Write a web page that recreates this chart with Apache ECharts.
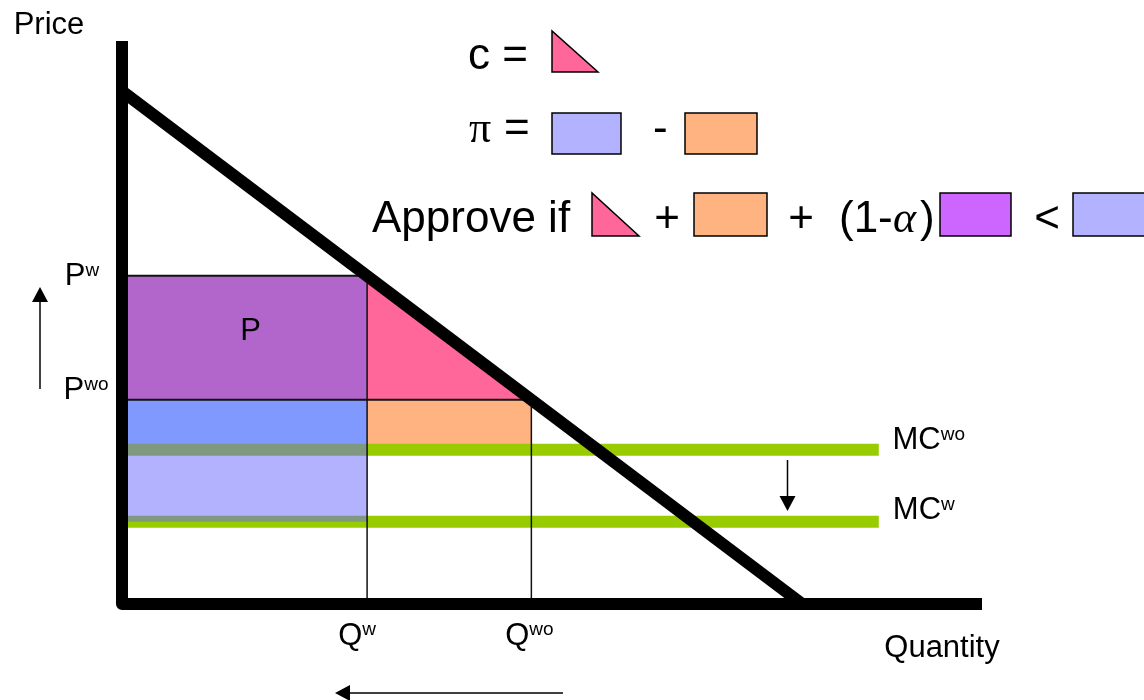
<!DOCTYPE html>
<html>
<head>
<meta charset="utf-8">
<title>Merger approval diagram</title>
<script src="https://cdn.jsdelivr.net/npm/echarts@6/dist/echarts.min.js"></script>
<style>
  html, body { margin: 0; padding: 0; background: #fff; }
  #chart { width: 1144px; height: 700px; }
</style>
</head>
<body>
<div id="chart"></div>
<script>
// values (arbitrary units, both axes 0..100)
var quantities = [28.5, 47.6];      // Q^w, Q^wo
var prices = [58.3, 36.3];          // P^w, P^wo
var marginalCosts = [27.4, 14.6];   // MC^wo, MC^w
var demandEnds = [91.1, 79.1];      // price intercept, quantity intercept
var mcLineEnd = 88;
var axisEnd = 100;

var SANS = 'Liberation Sans, Arial, sans-serif';
var SERIF = 'Liberation Serif, Times New Roman, serif';

var Qw = quantities[0], Qwo = quantities[1];
var Pw = prices[0], Pwo = prices[1];
var MCwo = marginalCosts[0], MCw = marginalCosts[1];

var chart = echarts.init(document.getElementById('chart'));

// polygon filled in data space
function area(points, fill, z) {
    return {
        type: 'custom', clip: false, silent: true, z: z,
        data: [[0, 0]],
        renderItem: function (params, api) {
            return {
                type: 'polygon',
                shape: { points: points.map(function (p) { return api.coord(p); }) },
                style: { fill: fill }
            };
        }
    };
}

function line(points, color, width, z) {
    return {
        type: 'line', clip: false, silent: true, z: z,
        symbol: 'none', animation: false,
        data: points,
        lineStyle: { color: color, width: width, cap: 'butt', join: 'round' }
    };
}

var rich = {
    b: { fontFamily: SANS, fontSize: 31, lineHeight: 31, color: '#000', verticalAlign: 'bottom' },
    s: { fontFamily: SANS, fontSize: 19, lineHeight: 19, color: '#000', verticalAlign: 'top', padding: [0, 0, 19, 0] }
};

function lab(value, text, pos) {
    return {
        value: value,
        label: {
            show: true, formatter: text, position: pos, align: 'center', verticalAlign: 'middle',
            color: '#000', opacity: 1, textBorderWidth: 0, rich: rich
        }
    };
}

var labels = [
    lab([0, axisEnd], '{b|Price}', [-73, -16]),
    lab([axisEnd, 0], '{b|Quantity}', [-40, 44]),
    lab([0, Pw], '{b|P}{s|w}', [-40, 1]),
    lab([0, Pwo], '{b|P}{s|wo}', [-36, -9]),
    lab([Qw, 0], '{b|Q}{s|w}', [-10, 32]),
    lab([Qwo, 0], '{b|Q}{s|wo}', [-2, 32]),
    lab([mcLineEnd, MCwo], '{b|MC}{s|wo}', [50, -9]),
    lab([mcLineEnd, MCw], '{b|MC}{s|w}', [45, -11]),
    lab([Qw / 2, (Pw + Pwo) / 2], '{b|P}', [6, -6])
];

// formula row pieces (decoration, pixel space)
function txt(x, y, s, size, family, align, style) {
    return {
        type: 'text', z: 10, silent: true,
        style: {
            x: x, y: y, text: s, fill: '#000',
            font: (style || 'normal') + ' ' + size + 'px ' + family,
            textAlign: align || 'left', textVerticalAlign: 'middle'
        }
    };
}
function box(x, y, w, h, fill) {
    return { type: 'rect', z: 10, silent: true, shape: { x: x, y: y, width: w, height: h },
        style: { fill: fill, stroke: '#000', lineWidth: 1.5 } };
}
function tri(x, y, w, h, fill) {
    return { type: 'polygon', z: 10, silent: true,
        shape: { points: [[x, y], [x, y + h], [x + w, y + h]] },
        style: { fill: fill, stroke: '#000', lineWidth: 1.5 } };
}
function arrow(x1, y1, x2, y2) {
    var dx = x2 - x1, dy = y2 - y1, len = Math.sqrt(dx * dx + dy * dy);
    var ux = dx / len, uy = dy / len, hl = 15, hw = 8;
    var bx = x2 - ux * hl, by = y2 - uy * hl;
    return [
        { type: 'line', z: 10, silent: true, shape: { x1: x1, y1: y1, x2: bx, y2: by },
          style: { stroke: '#000', lineWidth: 1.5 } },
        { type: 'polygon', z: 10, silent: true,
          shape: { points: [[x2, y2], [bx - uy * hw, by + ux * hw], [bx + uy * hw, by - ux * hw]] },
          style: { fill: '#000' } }
    ];
}

var PINK = '#FF6699', ORANGE = '#FFB380', LAV = '#B2B2FF', PURPLE = '#CC66FF';

var graphics = [
    txt(468, 57, 'c =', 44, SANS),
    tri(552, 31, 46, 41, PINK),
    txt(469, 130, 'π', 44, SERIF),
    txt(504, 130, '=', 44, SANS),
    box(552, 113, 69, 41, LAV),
    txt(653, 130, '-', 44, SANS),
    box(685, 113, 72, 41, ORANGE),
    txt(372, 220, 'Approve if', 44, SANS),
    tri(592, 193, 47, 43, PINK),
    txt(667, 220, '+', 44, SANS, 'center'),
    box(694, 193, 73, 43, ORANGE),
    txt(801, 220, '+', 44, SANS, 'center'),
    txt(839, 220, '(1-', 44, SANS),
    txt(893, 220, 'α', 44, SERIF, 'left', 'italic'),
    txt(920, 220, ')', 44, SANS),
    box(940, 193, 71, 43, PURPLE),
    txt(1047, 220, '<', 44, SANS, 'center'),
    box(1073, 193, 74, 43, LAV)
].concat(arrow(40, 389, 40, 287), arrow(787.5, 460, 787.5, 511), arrow(563, 693, 335, 693));

var option = {
    animation: false,
    grid: { left: 122, right: 162, top: 41, bottom: 96 },
    xAxis: { type: 'value', min: 0, max: axisEnd, show: false },
    yAxis: { type: 'value', min: 0, max: axisEnd, show: false },
    graphic: graphics,
    series: [
        // pink: welfare loss triangle plus the price rise rectangle
        area([[0, Pw], [Qw, Pw], [Qwo, Pwo], [0, Pwo]], PINK, 1),
        area([[0, Pwo], [Qw, Pwo], [Qw, MCwo], [0, MCwo]], '#99CCFF', 1),
        area([[Qw, Pwo], [Qwo, Pwo], [Qwo, MCwo], [Qw, MCwo]], ORANGE, 1),
        line([[0, MCwo], [mcLineEnd, MCwo]], '#99CC00', 12, 2),
        line([[0, MCw], [mcLineEnd, MCw]], '#99CC00', 12, 2),
        // translucent profit block over everything left of Q^w
        area([[0, Pw], [Qw, Pw], [Qw, MCw], [0, MCw]], 'rgba(102,102,255,0.5)', 3),
        line([[0, Pw], [Qw, Pw]], '#111', 2, 4),
        line([[0, Pwo], [Qwo, Pwo]], '#111', 2, 4),
        line([[Qw, 0], [Qw, Pw]], '#111', 1.5, 4),
        line([[Qwo, 0], [Qwo, Pwo]], '#111', 1.5, 4),
        line([[0, demandEnds[0]], [demandEnds[1], 0]], '#000', 12, 5),
        line([[0, axisEnd], [0, 0], [axisEnd, 0]], '#000', 12, 6),
        {
            type: 'scatter', clip: false, silent: true, z: 7,
            symbolSize: 0,
            data: labels
        }
    ]
};

chart.setOption(option);
</script>
</body>
</html>
